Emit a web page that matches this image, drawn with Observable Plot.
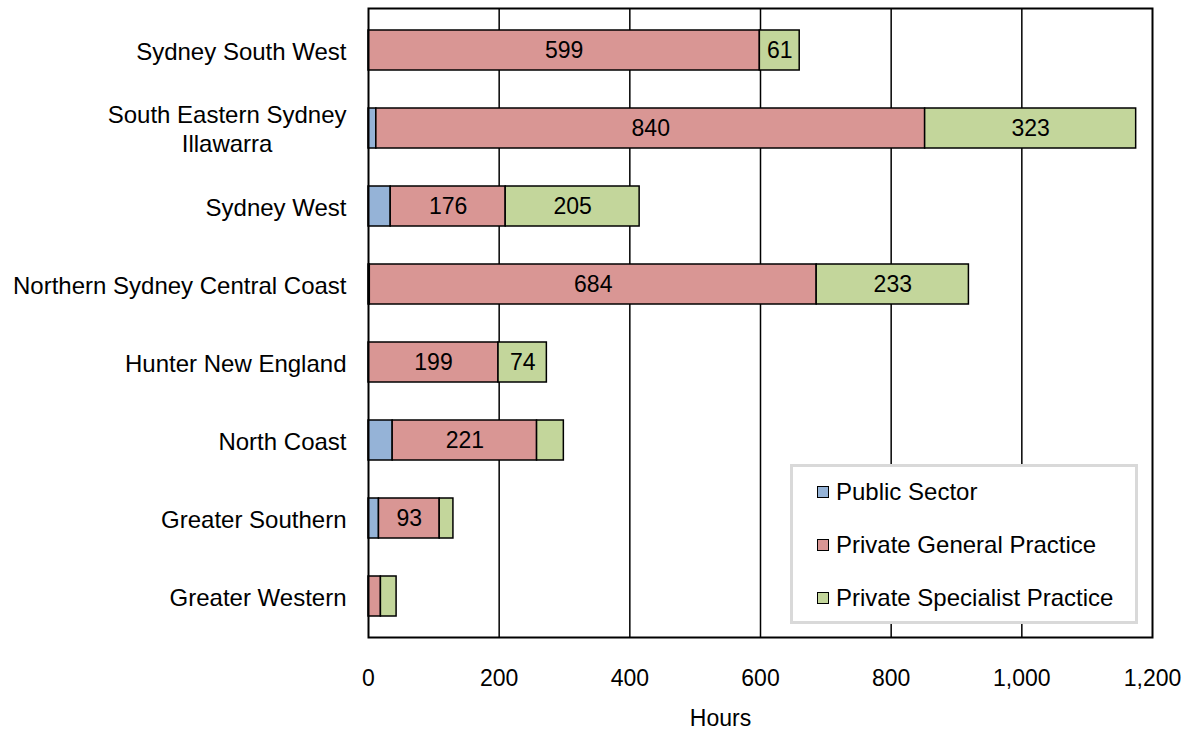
<!DOCTYPE html>
<html>
<head>
<meta charset="utf-8">
<script src="https://cdn.jsdelivr.net/npm/d3@7"></script>
<script src="https://cdn.jsdelivr.net/npm/@observablehq/plot@0.6"></script>
<style>
  html, body { margin: 0; padding: 0; background: #fff; }
  #wrap { position: relative; width: 1197px; height: 729px; font-family: "Liberation Sans", Arial, sans-serif; }
  #legend { position: absolute; left: 790px; top: 464px; width: 342px; height: 154px;
            border: 3px solid #d9d9d9; background: #fff; box-sizing: content-box; }
  .item { position: absolute; left: 24px; font-size: 24px; color: #000; line-height: 24px; white-space: nowrap; }
  .sw { display: inline-block; width: 10px; height: 10px; border: 1px solid #000; margin-right: 7px; vertical-align: 2px; }
</style>
</head>
<body>
<div id="wrap"></div>
<script>
const regions = ["Sydney South West", "South Eastern Sydney\nIllawarra", "Sydney West",
  "Northern Sydney Central Coast", "Hunter New England", "North Coast", "Greater Southern", "Greater Western"];
const sectors = ["Public Sector", "Private General Practice", "Private Specialist Practice"];
const colors = ["#95B3D7", "#D99694", "#C3D69B"];
const publicSector = [0, 12, 34, 2, 0, 37, 16, 0];
const privateGP = [599, 840, 176, 684, 199, 221, 93, 19];
const privateSpecialist = [61, 323, 205, 233, 74, 41, 21, 24];
const xTicks = [0, 200, 400, 600, 800, 1000, 1200];
const gridTicks = [200, 400, 600, 800, 1000];
const labelMin = 50;

const series = [publicSector, privateGP, privateSpecialist];
const data = [];
regions.forEach((r, i) => sectors.forEach((s, j) => data.push({region: r, sector: s, value: series[j][i]})));

const chart = Plot.plot({
  width: 1197, height: 729,
  marginLeft: 368, marginRight: 45, marginTop: 8, marginBottom: 92,
  style: {fontFamily: "'Liberation Sans', Arial, sans-serif", fontSize: "24px", color: "#000", background: "#fff"},
  x: {domain: [0, 1200], ticks: xTicks, tickFormat: d3.format(",")},
  y: {domain: regions, paddingInner: 0.49, paddingOuter: 0.245},
  color: {domain: sectors, range: colors},
  marks: [
    Plot.gridX(gridTicks, {stroke: "#000", strokeOpacity: 1, strokeWidth: 1.5}),
    Plot.barX(data, Plot.stackX({x: "value", y: "region", fill: "sector", z: "sector",
      stroke: "#000", strokeWidth: 1.5})),
    Plot.text(data, Plot.stackX({x: "value", y: "region", z: "sector",
      text: d => d.value >= labelMin ? String(d.value) : null, fill: "#000", fontSize: 23})),
    Plot.frame({stroke: "#000", strokeWidth: 2}),
    Plot.axisX({ticks: xTicks, tickFormat: d3.format(","), tickSize: 0, tickPadding: 32, fontSize: 23, label: null}),
    Plot.axisY({tickSize: 0, tickPadding: 22, fontSize: 24, label: null, lineHeight: 1.2}),
    Plot.text(["Hours"], {frameAnchor: "bottom", dx: -40, dy: 88, fontSize: 23, fill: "#000"})
  ]
});

const wrap = document.getElementById("wrap");
wrap.appendChild(chart);

// centre multi-line category labels relative to each other (right-aligned block)
chart.querySelectorAll('g[aria-label="y-axis tick label"] text').forEach(t => {
  const spans = t.querySelectorAll("tspan");
  if (spans.length > 1) {
    let w = 0;
    spans.forEach(s => { w = Math.max(w, s.getComputedTextLength()); });
    t.setAttribute("text-anchor", "middle");
    const tr = t.getAttribute("transform") || "";
    t.setAttribute("transform", tr + ` translate(${-w / 2},0)`);
  }
});

const legend = document.createElement("div");
legend.id = "legend";
const rowsTop = [13, 66, 119];
sectors.forEach((s, i) => {
  const it = document.createElement("div");
  it.className = "item";
  it.style.top = rowsTop[i] + "px";
  it.innerHTML = `<span class="sw" style="background:${colors[i]}"></span>${s}`;
  legend.appendChild(it);
});
wrap.appendChild(legend);
</script>
</body>
</html>
